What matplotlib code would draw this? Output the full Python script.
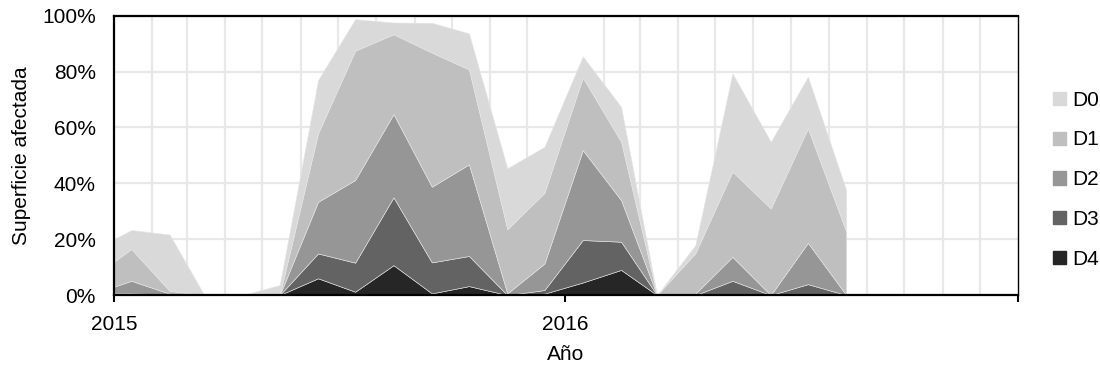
import matplotlib
matplotlib.use("Agg")
import matplotlib.pyplot as plt
import matplotlib.dates as mdates
import matplotlib.patches as mpatches
from matplotlib.ticker import PercentFormatter
import pandas as pd

plt.rcParams['font.family'] = ['Liberation Sans', 'DejaVu Sans']

# fechas del monitor (inicio de 2015 y luego a mitad de cada mes)
fechas = pd.to_datetime(['2015-01-01'] +
                        ['2015-%02d-15' % m for m in range(1, 13)] +
                        ['2016-%02d-15' % m for m in range(1, 9)])

# porcentaje de superficie por categoria de sequia
d0 = [8.0, 6.8, 20.2, 0, 0, 3.6, 19.1, 11.3, 4.2, 10.7, 12.9, 21.8, 16.5, 7.6, 12.5, 0, 2.9, 35.2, 23.9, 18.5, 14.9]
d1 = [9.0, 11.4, 1.0, 0, 0, 0, 24.5, 46.3, 28.6, 48.0, 34.0, 23.0, 25.3, 26.0, 20.9, 0, 14.5, 30.5, 31.0, 41.0, 22.7]
d2 = [2.4, 4.5, 0.3, 0, 0, 0, 18.5, 29.6, 29.8, 27.1, 32.8, 0.6, 9.5, 32.2, 14.9, 0, 0.5, 8.6, 0, 14.8, 0]
d3 = [0.3, 0.4, 0.2, 0, 0, 0, 8.9, 10.4, 24.3, 11.1, 10.8, 0, 1.3, 15.2, 10.1, 0, 0, 5.1, 0, 3.9, 0]
d4 = [0.3, 0.2, 0, 0, 0, 0, 6.0, 1.2, 10.7, 0.6, 3.2, 0, 0.5, 4.5, 9.0, 0, 0, 0, 0, 0, 0]

categorias = ['D0', 'D1', 'D2', 'D3', 'D4']
colores = ['#d9d9d9', '#bfbfbf', '#969696', '#636363', '#262626']

anios = pd.to_datetime(['2015-01-01', '2016-01-01', '2017-01-01'])
etiquetas_anio = ['2015', '2016', '']

fig = plt.figure(figsize=(11, 3.67), dpi=100)
ax = fig.add_axes([0.1036, 0.196, 0.822, 0.761])

# se apila de D4 (abajo) a D0 (arriba)
ax.stackplot(fechas, d4, d3, d2, d1, d0, colors=colores[::-1],
             edgecolor='#e6e6e6', linewidth=0.4)

ax.set_xlim(anios[0], anios[-1])
ax.set_ylim(0, 100)
ax.set_yticks([0, 20, 40, 60, 80, 100])
ax.yaxis.set_major_formatter(PercentFormatter(xmax=100, decimals=0))

ax.set_xticks(anios)
ax.set_xticklabels(etiquetas_anio)
ax.xaxis.set_minor_locator(mdates.MonthLocator())

ax.set_axisbelow(True)
ax.grid(axis='y', which='major', color='#e8e8e8', linewidth=1.6)
ax.grid(axis='x', which='minor', color='#e8e8e8', linewidth=1.6)

for lado in ['top', 'left', 'bottom']:
    ax.spines[lado].set_linewidth(1.6)
ax.spines['right'].set_linewidth(1.0)

ax.tick_params(axis='x', which='major', length=5, width=1.5, labelsize=15, pad=9)
ax.tick_params(axis='x', which='minor', length=0)
ax.tick_params(axis='y', length=0, labelsize=15, pad=13)

ax.set_xlabel('Año', fontsize=15, labelpad=8)
ax.set_ylabel('Superficie afectada', fontsize=15, labelpad=8)

manijas = [mpatches.Patch(color=c, label=l) for c, l in zip(colores, categorias)]
fig.legend(handles=manijas, loc='center left', bbox_to_anchor=(0.948, 0.51),
           frameon=False, fontsize=15, handlelength=0.6, handleheight=0.6,
           handletextpad=0.3, labelspacing=1.0, borderpad=0)

fig.savefig('out.png', dpi=100)
